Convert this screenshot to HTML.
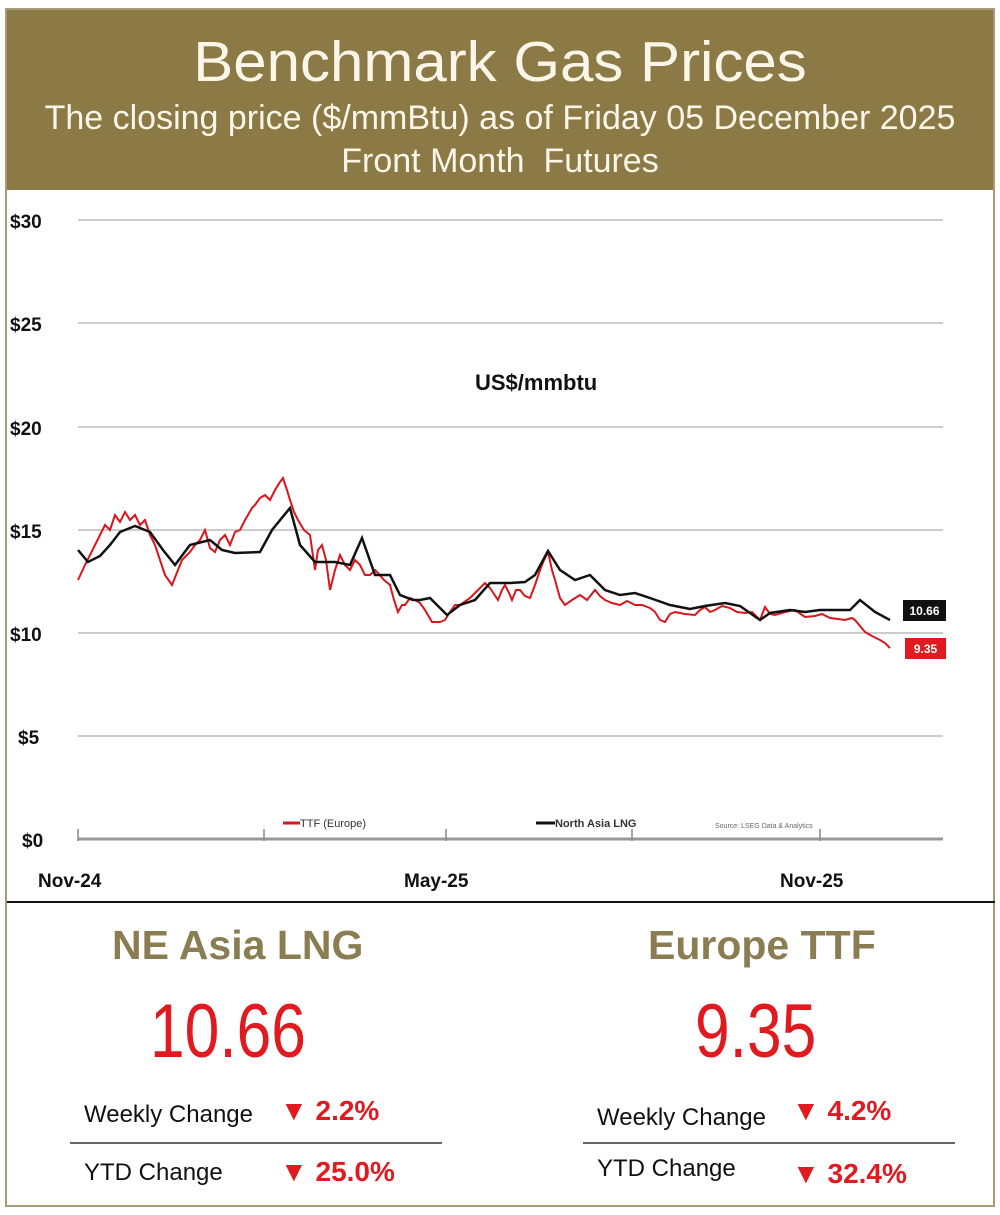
<!DOCTYPE html>
<html><head><style>
body{margin:0;background:#fff;width:1000px;height:1215px;overflow:hidden;font-family:"Liberation Sans",sans-serif;}
.t{position:absolute;white-space:nowrap;}
</style></head><body>
<div style="position:absolute;left:5px;top:8px;width:986px;height:1195px;border:2px solid #a89c78;"></div>
<div style="position:absolute;left:7px;top:10px;width:986px;height:180px;background:#8b7a45;"></div>
<div class="t" style="left:0;width:1000px;text-align:center;top:27px;font-size:60px;color:#fbf6e8;transform:scaleY(0.95);">Benchmark Gas Prices</div>
<div class="t" style="left:0;width:1000px;text-align:center;top:99px;font-size:34px;color:#fbf6e8;">The closing price ($/mmBtu) as of Friday 05 December 2025</div>
<div class="t" style="left:0;width:1000px;text-align:center;top:142px;font-size:34px;color:#fbf6e8;">Front Month&nbsp; Futures</div>
<div style="position:absolute;left:7px;top:901px;width:988px;height:2px;background:#111;"></div>
<svg width="1000" height="1215" style="position:absolute;left:0;top:0" font-family="Liberation Sans,sans-serif">
<g stroke="#bbb" stroke-width="1.5">
<line x1="78" x2="943" y1="220" y2="220"/><line x1="78" x2="943" y1="323" y2="323"/><line x1="78" x2="943" y1="427" y2="427"/><line x1="78" x2="943" y1="530" y2="530"/><line x1="78" x2="943" y1="633" y2="633"/><line x1="78" x2="943" y1="736" y2="736"/>
</g>
<line x1="78" x2="943" y1="839" y2="839" stroke="#999" stroke-width="3"/>
<g stroke="#888" stroke-width="1.5"><line x1="78" x2="78" y1="829" y2="841"/><line x1="264" x2="264" y1="829" y2="841"/><line x1="446" x2="446" y1="829" y2="841"/><line x1="632" x2="632" y1="829" y2="841"/><line x1="820" x2="820" y1="829" y2="841"/></g>
<g font-size="19" font-weight="bold" fill="#111">
<text x="10" y="228">$30</text><text x="10" y="331">$25</text><text x="10" y="435">$20</text><text x="10" y="538">$15</text><text x="10" y="641">$10</text><text x="18" y="744">$5</text><text x="22" y="847">$0</text>
<text x="38" y="887">Nov-24</text><text x="404" y="887">May-25</text><text x="780" y="887">Nov-25</text>
</g>
<text x="475" y="390" font-size="22" font-weight="bold" fill="#111">US$/mmbtu</text>
<polyline fill="none" stroke="#d9161c" stroke-width="2" points="78,580 85,565 95,545 105,525 110,530 115,515 120,522 125,512 130,520 135,515 140,525 145,520 150,535 155,545 160,560 165,575 172,585 178,570 182,560 190,552 195,545 200,540 205,530 210,548 215,552 220,540 225,535 230,545 235,532 240,530 245,520 248,515 252,508 255,505 260,498 265,495 270,500 275,490 280,482 283,478 287,490 290,500 294,512 298,520 304,530 310,535 315,570 318,550 322,545 326,560 330,590 335,570 340,555 345,565 350,570 355,560 360,565 365,575 370,575 375,570 378,573 384,580 390,585 394,600 398,612 402,605 405,605 410,598 415,600 420,603 425,610 432,622 440,622 445,620 450,612 455,605 460,605 470,598 478,590 485,583 490,588 498,600 502,590 505,585 510,595 512,600 516,590 520,590 525,596 530,598 535,585 540,570 544,560 548,552 552,570 555,580 560,598 565,605 572,600 580,595 587,600 595,590 600,596 605,600 612,603 620,605 627,601 635,605 642,605 650,608 655,612 660,620 665,622 670,614 675,612 685,614 695,615 700,610 705,607 710,612 715,610 722,606 730,608 737,612 745,613 752,612 760,620 765,607 770,614 775,615 785,612 795,610 805,617 815,616 822,614 830,618 838,619 845,620 852,618 855,620 860,626 865,632 872,636 880,640 885,643 890,648"/>
<polyline fill="none" stroke="#111" stroke-width="2.5" points="78,550 88,562 100,556 110,545 120,532 135,526 150,532 163,550 175,565 190,545 210,540 222,550 235,553 260,552 272,530 290,508 300,545 315,562 335,562 350,565 362,538 375,575 390,575 400,595 413,600 420,600 430,598 447,615 460,605 475,600 490,583 510,583 525,582 535,575 548,551 560,570 575,580 590,575 605,590 620,595 635,593 650,598 670,605 690,609 705,606 725,603 740,606 760,620 770,613 790,610 805,612 820,610 850,610 860,600 875,612 890,620"/>
<rect x="903" y="600" width="43" height="21" fill="#111"/><text x="924.5" y="615" font-size="12" fill="#fff" text-anchor="middle" font-weight="bold">10.66</text>
<rect x="905" y="638" width="41" height="21" fill="#e01a1f"/><text x="925.5" y="653" font-size="12" fill="#fff" text-anchor="middle" font-weight="bold">9.35</text>
<line x1="283" x2="300" y1="823" y2="823" stroke="#d9161c" stroke-width="3"/><text x="300" y="827" font-size="11" fill="#333">TTF (Europe)</text>
<line x1="536" x2="555" y1="823" y2="823" stroke="#111" stroke-width="3"/><text x="555" y="827" font-size="11" fill="#333" font-weight="bold">North Asia LNG</text>
<text x="715" y="828" font-size="7" fill="#666">Source: LSEG Data &amp; Analytics</text>
<line x1="70" x2="442" y1="1143" y2="1143" stroke="#666" stroke-width="2"/>
<line x1="583" x2="955" y1="1143" y2="1143" stroke="#666" stroke-width="2"/>
</svg>
<div class="t" style="left:112px;top:922px;font-size:41px;font-weight:bold;color:#8b7d52;">NE Asia LNG</div>
<div class="t" style="left:648px;top:922px;font-size:41px;font-weight:bold;color:#8b7d52;">Europe TTF</div>
<div class="t" style="left:150px;top:988px;font-size:76px;color:#e01a1f;transform:scaleX(0.82);transform-origin:left;">10.66</div>
<div class="t" style="left:695px;top:988px;font-size:76px;color:#e01a1f;transform:scaleX(0.82);transform-origin:left;">9.35</div>
<div class="t" style="left:84px;top:1101px;font-size:24px;color:#111;">Weekly Change</div>
<div class="t" style="left:280px;top:1095px;font-size:28px;color:#e01a1f;font-weight:bold;">▼ 2.2%</div>
<div class="t" style="left:84px;top:1159px;font-size:24px;color:#111;">YTD Change</div>
<div class="t" style="left:280px;top:1156px;font-size:28px;color:#e01a1f;font-weight:bold;">▼ 25.0%</div>
<div class="t" style="left:597px;top:1104px;font-size:24px;color:#111;">Weekly Change</div>
<div class="t" style="left:792px;top:1095px;font-size:28px;color:#e01a1f;font-weight:bold;">▼ 4.2%</div>
<div class="t" style="left:597px;top:1155px;font-size:24px;color:#111;">YTD Change</div>
<div class="t" style="left:792px;top:1158px;font-size:28px;color:#e01a1f;font-weight:bold;">▼ 32.4%</div>
</body></html>
